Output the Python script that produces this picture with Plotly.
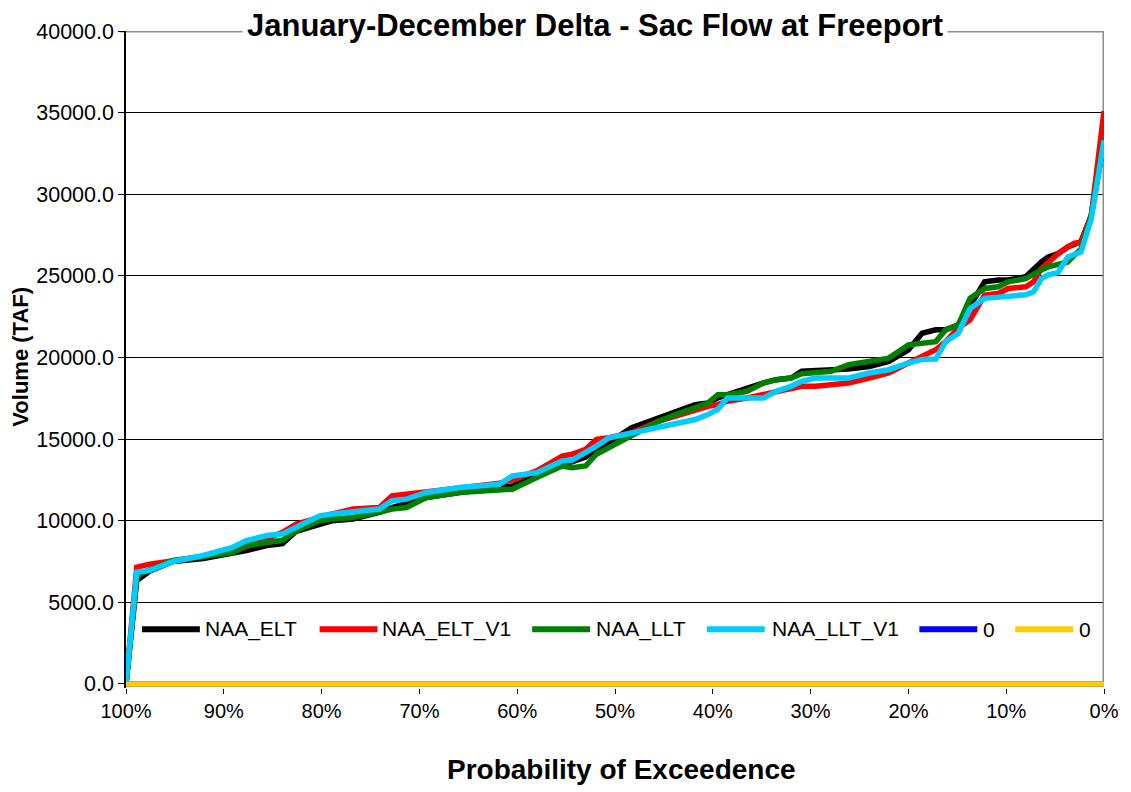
import plotly.graph_objects as go

# ---------------- data ----------------
exceedance = [100, 98.9, 97.6, 95.2, 92.1, 89.1, 87.7, 85.6, 84.0, 82.6, 80.2, 78.9, 76.8, 74.1,
              72.8, 71.3, 69.3, 65.9, 61.8, 60.5, 58.0, 55.4, 54.4, 53.0, 51.9, 50.6, 48.3, 45.5,
              43.8, 41.8, 40.5, 39.5, 38.5, 36.5, 34.8, 33.5, 32.0, 30.9, 29.5, 27.9, 26.1, 24.0,
              22.0, 20.0, 18.6, 17.2, 16.2, 14.9, 13.7, 12.2, 10.8, 9.8, 8.0, 7.2, 6.4, 5.7, 4.7,
              3.7, 3.0, 2.35, 1.3, 0]

naa_elt = [0, 6340, 6900, 7500, 7680, 8000, 8170, 8480, 8600, 9350, 9800, 10000, 10100, 10510,
           10800, 11100, 11420, 11730, 12030, 12130, 12740, 13500, 13600, 13900, 14400, 14800,
           15690, 16300, 16710, 17110, 17210, 17520, 17720, 18130, 18440, 18640, 18740, 19150,
           19190, 19250, 19300, 19450, 19760, 20470, 21480, 21690, 21690, 21990, 23110, 24630,
           24740, 24750, 24940, 25440, 25850, 26160, 26360, 26770, 26950, 27100, 28700, 33300]

naa_elt_v1 = [0, 7150, 7340, 7560, 7870, 8070, 8400, 8900, 9290, 9800, 10250, 10410, 10710, 10810,
              11520, 11630, 11730, 12000, 12300, 12500, 13050, 13960, 14070, 14370, 14980, 15080,
              15390, 16100, 16400, 16810, 17010, 17110, 17320, 17520, 17720, 17930, 18130, 18230,
              18230, 18330, 18440, 18740, 19050, 19660, 20060, 20470, 20970, 21790, 22310, 23820,
              23920, 24225, 24330, 24630, 25445, 25850, 26360, 26770, 27000, 27050, 28700, 35100]

naa_llt = [0, 6600, 7000, 7560, 7800, 8050, 8480, 8680, 8800, 9390, 10000, 10100, 10200, 10510,
           10710, 10810, 11420, 11730, 11930, 11930, 12640, 13350, 13250, 13350, 14070, 14470,
           15180, 16100, 16500, 16910, 17210, 17720, 17720, 17930, 18440, 18640, 18740, 19000,
           19100, 19150, 19560, 19760, 19960, 20770, 20870, 20970, 21690, 21990, 23620, 24230,
           24330, 24630, 24835, 25140, 25365, 25550, 25670, 25850, 26280, 26650, 28700, 33470]

naa_llt_v1 = [0, 6850, 6950, 7500, 7870, 8370, 8780, 9090, 9190, 9600, 10300, 10410, 10510, 10710,
              11220, 11320, 11730, 12030, 12230, 12740, 12940, 13660, 13700, 14160, 14570, 15080,
              15390, 15690, 16000, 16200, 16500, 16810, 17520, 17520, 17520, 17930, 18230, 18540,
              18740, 18740, 18740, 19050, 19250, 19660, 19880, 19900, 20970, 21480, 23000, 23620,
              23720, 23720, 23840, 24020, 24835, 25060, 25200, 26160, 26280, 26460, 28500, 33300]

zero_a = [0] * len(exceedance)
zero_b = [0] * len(exceedance)

series_names = ["NAA_ELT", "NAA_ELT_V1", "NAA_LLT", "NAA_LLT_V1", "0", "0"]
series_values = [naa_elt, naa_elt_v1, naa_llt, naa_llt_v1, zero_a, zero_b]
series_colors = ["#000000", "#FF0000", "#008000", "#00CCFF", "#0000FF", "#FFCC00"]

x_ticks = [100, 90, 80, 70, 60, 50, 40, 30, 20, 10, 0]
x_tick_text = ["100%", "90%", "80%", "70%", "60%", "50%", "40%", "30%", "20%", "10%", "0%"]
y_ticks = [0, 5000, 10000, 15000, 20000, 25000, 30000, 35000, 40000]

title_text = "January-December Delta - Sac Flow at Freeport"
x_title = "Probability of Exceedence"
y_title = "Volume (TAF)"

# ---------------- layout geometry ----------------
OFF = 8                      # page body margin of the html output
W, H = 1131 - OFF, 792 - OFF
L, R = 126 - OFF, 1106 - OFF
TOP, Y0 = 28 - OFF, 684 - OFF
YMIN = -250
px_per_unit = (Y0 - TOP) / 40000.0
BOTTOM = Y0 + (-YMIN) * px_per_unit
FONT = "Liberation Sans, Arial, sans-serif"


def px_to_pct(px):
    px -= OFF
    return 100 - (px - L) / (R - L) * 100


def py_to_val(py):
    py -= OFF
    return (Y0 - py) / px_per_unit


def px_to_paper_x(px):
    px -= OFF
    return (px - L) / (R - L)


def py_to_paper_y(py):
    py -= OFF
    return (BOTTOM - py) / (BOTTOM - TOP)


fig = go.Figure()
for name, vals, col in zip(series_names, series_values, series_colors):
    fig.add_trace(go.Scatter(x=exceedance, y=vals, mode="lines", name=name,
                             line=dict(color=col, width=5.5), showlegend=False))

shapes = [
    dict(type="line", xref="paper", yref="y", x0=-0.006, x1=1, y0=40000, y1=40000,
         line=dict(color="#8C8C8C", width=3), layer="between"),
    dict(type="line", xref="x", yref="y", x0=0, x1=0, y0=0, y1=40000,
         line=dict(color="#8C8C8C", width=3), layer="between"),
]

annotations = [
    dict(text="<b>" + title_text + "</b>", xref="paper", yref="paper",
         x=px_to_paper_x(596), y=py_to_paper_y(22), xanchor="center", yanchor="middle",
         showarrow=False, font=dict(family=FONT, size=31, color="black"),
         bgcolor="white", borderpad=4),
    dict(text="<b>" + x_title + "</b>", xref="paper", yref="paper",
         x=px_to_paper_x(623), y=py_to_paper_y(770), xanchor="center", yanchor="middle",
         showarrow=False, font=dict(family=FONT, size=28, color="black")),
    dict(text="<b>" + y_title + "</b>", xref="paper", yref="paper",
         x=px_to_paper_x(20), y=py_to_paper_y(355), xanchor="center", yanchor="middle",
         showarrow=False, textangle=-90, font=dict(family=FONT, size=22, color="black")),
]

legend_items = [(142, 200, 203), (320, 378, 381), (533, 591, 595),
                (708, 766, 771), (921, 979, 983), (1017, 1075, 1079)]
LEG_Y = 629
for (a, b, t), name, col in zip(legend_items, series_names, series_colors):
    shapes.append(dict(type="line", xref="x", yref="y", x0=px_to_pct(a), x1=px_to_pct(b),
                       y0=py_to_val(LEG_Y), y1=py_to_val(LEG_Y),
                       line=dict(color=col, width=6), layer="above"))
    annotations.append(dict(text=name, xref="x", yref="y", x=px_to_pct(t), y=py_to_val(LEG_Y),
                            xanchor="left", yanchor="middle", showarrow=False,
                            font=dict(family=FONT, size=21, color="black")))

fig.update_layout(
    width=W, height=H,
    margin=dict(l=L, r=W - R, t=TOP, b=H - BOTTOM, pad=0),
    plot_bgcolor="white", paper_bgcolor="white",
    font=dict(family=FONT, size=20, color="black"),
    shapes=shapes, annotations=annotations,
    xaxis=dict(range=[100, 0], tickvals=x_ticks, ticktext=x_tick_text,
               showgrid=False, zeroline=False, showline=False,
               ticks="outside", ticklen=5, tickcolor="black", tickwidth=1,
               tickfont=dict(family=FONT, size=20, color="black")),
    yaxis=dict(range=[YMIN, 40000], tickvals=y_ticks, tickformat=".1f",
               showgrid=True, gridcolor="black", gridwidth=1,
               zeroline=True, zerolinecolor="black", zerolinewidth=1,
               showline=True, linecolor="black", linewidth=1.5,
               ticks="outside", ticklen=6, tickcolor="black", tickwidth=1,
               tickfont=dict(family=FONT, size=21.5, color="black")),
)

fig.write_html("out.html")
